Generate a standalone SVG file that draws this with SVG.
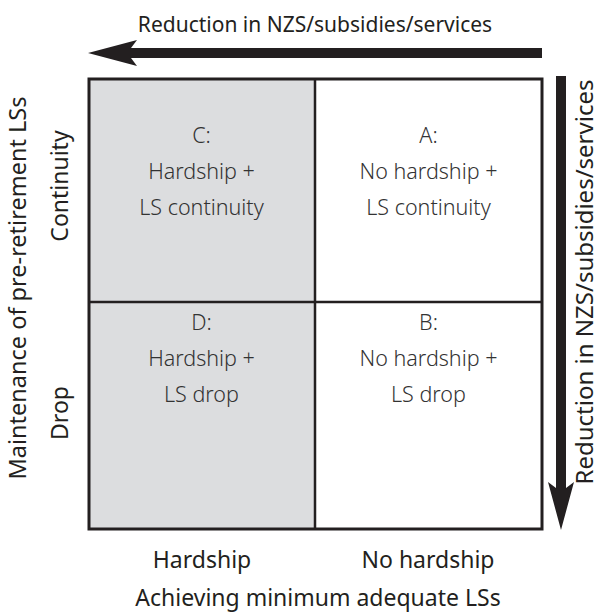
<svg xmlns="http://www.w3.org/2000/svg" width="601" height="612" viewBox="0 0 601 612">
<style>
text{font-family:"Noto Sans","Open Sans",sans-serif;fill:#231f20}
.cell{font-size:21.5px;font-weight:300;fill:#333;text-anchor:middle}
.ax{font-size:23px;text-anchor:middle}
.arr{fill:#231f20}
</style>
<rect width="601" height="612" fill="#fff"/>
<g id="C"><rect x="88" y="78" width="227" height="224" fill="#dcdddf"/>
<text class="cell" x="201.5" y="143">C:</text><text class="cell" x="201.5" y="179">Hardship +</text><text class="cell" x="201.5" y="215">LS continuity</text></g>
<g id="A"><text class="cell" x="428.5" y="143">A:</text><text class="cell" x="428.5" y="179">No hardship +</text><text class="cell" x="428.5" y="215">LS continuity</text></g>
<g id="D"><rect x="88" y="302" width="227" height="227" fill="#dcdddf"/>
<text class="cell" x="201.5" y="330">D:</text><text class="cell" x="201.5" y="366">Hardship +</text><text class="cell" x="201.5" y="402">LS drop</text></g>
<g id="B"><text class="cell" x="428.5" y="330">B:</text><text class="cell" x="428.5" y="366">No hardship +</text><text class="cell" x="428.5" y="402">LS drop</text></g>
<g id="grid" fill="none" stroke="#231f20">
<rect x="89" y="79" width="453" height="450" stroke-width="3"/>
<line x1="315" y1="79" x2="315" y2="529" stroke-width="2.5"/>
<line x1="89" y1="302" x2="542" y2="302" stroke-width="2.5"/>
</g>
<g id="connectors">
<path class="arr" d="M542,48 L131,48 L137,40 L88,53 L137,66 L131,58 L542,58 Z"/>
<path class="arr" d="M556,76 L556,488 L548,482 L561,530 L574,482 L566,488 L566,76 Z"/>
</g>
<g id="labels">
<text x="315" y="32" style="font-size:21px;text-anchor:middle">Reduction in NZS/subsidies/services</text>
<text transform="translate(593,282) rotate(-90)" style="font-size:24px;text-anchor:middle">Reduction in NZS/subsidies/services</text>
<text transform="translate(26,288) rotate(-90)" style="font-size:23.5px;text-anchor:middle">Maintenance of pre-retirement LSs</text>
<text transform="translate(68,186) rotate(-90)" class="ax">Continuity</text>
<text transform="translate(68,413) rotate(-90)" class="ax">Drop</text>
<text class="ax" x="202" y="568">Hardship</text>
<text class="ax" x="428" y="568">No hardship</text>
<text class="ax" x="318" y="606">Achieving minimum adequate LSs</text>
</g>
</svg>
